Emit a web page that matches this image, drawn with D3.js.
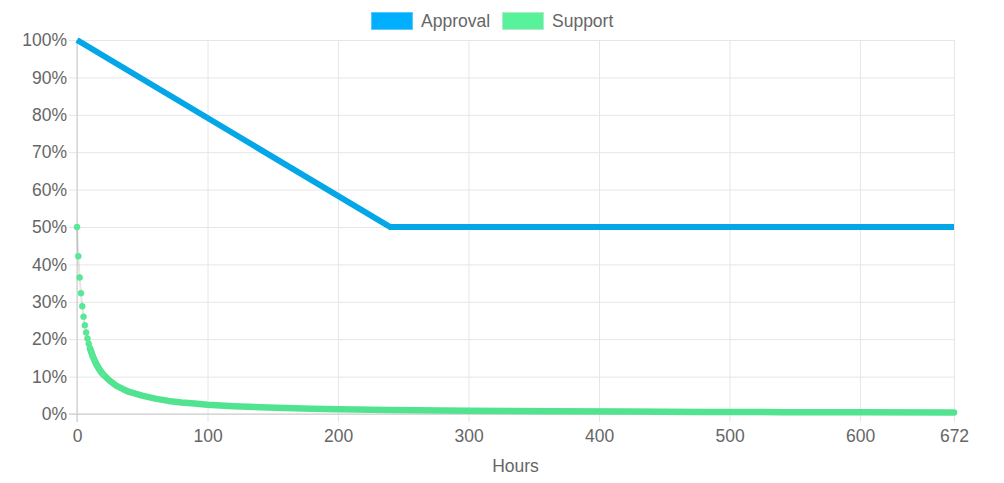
<!DOCTYPE html>
<html>
<head>
<meta charset="utf-8">
<script src="https://cdn.jsdelivr.net/npm/d3@7"></script>
<style>
  body { margin: 0; background: #fff; }
  svg { display: block; font-family: "Liberation Sans", Arial, sans-serif; }
</style>
</head>
<body>
<svg id="chart" width="1004" height="483"></svg>
<script>
// approval: [hour, percent]
var approvalHours = [0, 240, 672];
var approvalValues = [100, 50, 50];

// support: values
var supportHours = [0, 1, 2, 3, 4, 5, 6, 7, 8, 9, 10, 11, 12, 13, 14, 15, 16, 17, 18, 19, 20,
  25, 30, 35, 40, 50, 60, 70, 80, 90, 100, 120, 140, 160, 180, 200, 240, 300, 360, 420, 480, 540, 600, 672];
var supportValues = [50, 42.2, 36.5, 32.3, 28.8, 26.0, 23.7, 21.8, 20.2, 18.8, 17.5, 16.5, 15.5, 14.7, 13.9, 13.2, 12.6, 12.0, 11.5, 11.0, 10.6,
  8.9, 7.6, 6.7, 5.9, 4.9, 4.1, 3.5, 3.1, 2.8, 2.5, 2.1, 1.8, 1.6, 1.4, 1.3, 1.1, 0.9, 0.75, 0.64, 0.56, 0.5, 0.45, 0.4];

var xTicks = [0, 100, 200, 300, 400, 500, 600, 672];
var yTicks = [0, 10, 20, 30, 40, 50, 60, 70, 80, 90, 100];
var seriesNames = ["Approval", "Support"];

var svg = d3.select("#chart");
var MARGINS = { top: 40, right: 50, bottom: 69, left: 77 };
var WIDTH = 1004, HEIGHT = 483;
var FONT = 17.5;

var x = d3.scaleLinear().domain([0, 672]).range([MARGINS.left, WIDTH - MARGINS.right]);
var y = d3.scaleLinear().domain([0, 100]).range([HEIGHT - MARGINS.bottom, MARGINS.top]);

// grid + ticks
var xAxis = d3.axisBottom(x).tickValues(xTicks).tickSize(-(y(0) - y(100))).tickSizeOuter(0).tickPadding(12);
var yAxis = d3.axisLeft(y).tickValues(yTicks).tickFormat(function(d) { return d + "%"; })
  .tickSize(-(x(672) - x(0))).tickSizeOuter(0).tickPadding(10);

var gx = svg.append("g").attr("transform", "translate(0," + y(0) + ")").call(xAxis);
var gy = svg.append("g").attr("transform", "translate(" + x(0) + ",0)").call(yAxis);

[gx, gy].forEach(function(g) {
  g.select(".domain").remove();
  g.selectAll(".tick line").attr("stroke", "#e6e6e6").attr("stroke-width", 1);
  g.selectAll(".tick text").attr("fill", "#666").attr("font-size", FONT);
});
// small tick marks outside the plot
gx.selectAll(".tick").append("line").attr("y1", 0).attr("y2", 8).attr("stroke", "#e6e6e6");
gy.selectAll(".tick").append("line").attr("x1", 0).attr("x2", -8).attr("stroke", "#e6e6e6");
gx.selectAll(".tick text").attr("dy", "0.71em").attr("y", 16);
// zero lines
svg.append("line").attr("x1", x(0) - 8).attr("x2", x(672)).attr("y1", y(0)).attr("y2", y(0))
  .attr("stroke", "#c8c8c8");
svg.append("line").attr("x1", x(0)).attr("x2", x(0)).attr("y1", y(100)).attr("y2", y(0) + 8)
  .attr("stroke", "#c8c8c8");

svg.append("text").attr("x", (x(0) + x(672)) / 2).attr("y", 472)
  .attr("text-anchor", "middle").attr("fill", "#666").attr("font-size", FONT).text("Hours");

var approval = approvalHours.map(function(h, i) { return { h: h, v: approvalValues[i] }; });
var support = supportHours.map(function(h, i) { return { h: h, v: supportValues[i] }; });

var lineFunc = d3.line()
  .x(function(d) { return x(d.h); })
  .y(function(d) { return y(d.v); });

// support: thin line, dense band of overlapping points, and separate early points
svg.append("path").attr("d", lineFunc(support))
  .attr("fill", "none").attr("stroke", "rgba(0,0,0,0.1)").attr("stroke-width", 2);
svg.append("path").attr("d", lineFunc(support.filter(function(d) { return d.h >= 10; })))
  .attr("fill", "none").attr("stroke", "#52e390").attr("stroke-width", 6.5)
  .attr("stroke-linecap", "round").attr("stroke-linejoin", "round");
svg.append("g").selectAll("circle").data(support.filter(function(d) { return d.h <= 20; }))
  .join("circle")
  .attr("cx", function(d) { return x(d.h); })
  .attr("cy", function(d) { return y(d.v); })
  .attr("r", 3)
  .attr("fill", "#57ea96")
  .attr("stroke", "#4fde8c").attr("stroke-width", 0.5);

// approval
svg.append("path").attr("d", lineFunc(approval))
  .attr("fill", "none").attr("stroke", "#03a6e6").attr("stroke-width", 6)
  .attr("stroke-linejoin", "miter");

// legend
var legendItems = [
  { name: seriesNames[0], x: 371, fill: "#00b0ff", stroke: "#5cc8f5" },
  { name: seriesNames[1], x: 502, fill: "#57f29a", stroke: "#b3e8c8" }
];
var lg = svg.append("g").selectAll("g").data(legendItems).join("g")
  .attr("transform", function(d) { return "translate(" + d.x + ",12)"; });
lg.append("rect").attr("x", 0.5).attr("y", 0.5).attr("width", 41).attr("height", 17)
  .attr("fill", function(d) { return d.fill; })
  .attr("stroke", function(d) { return d.stroke; });
lg.append("text").attr("x", 50).attr("y", 15).attr("fill", "#666").attr("font-size", FONT)
  .text(function(d) { return d.name; });
</script>
</body>
</html>
